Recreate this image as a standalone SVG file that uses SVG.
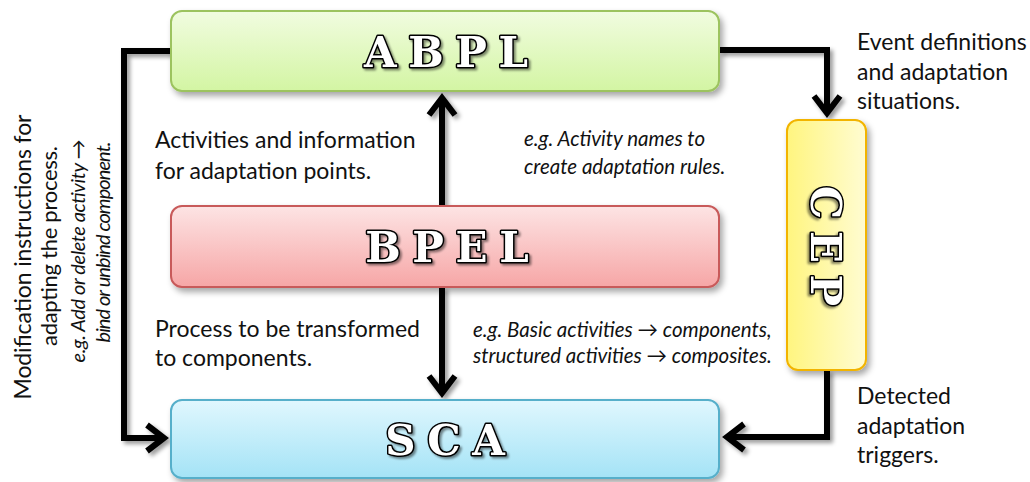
<svg xmlns="http://www.w3.org/2000/svg" width="1030" height="482" viewBox="0 0 1030 482">
<defs>
  <linearGradient id="gGreen" x1="0" y1="0" x2="0" y2="1">
    <stop offset="0" stop-color="#f1fce0"/>
    <stop offset="1" stop-color="#d3f5a3"/>
  </linearGradient>
  <linearGradient id="gRed" x1="0" y1="0" x2="0" y2="1">
    <stop offset="0" stop-color="#fde4e4"/>
    <stop offset="1" stop-color="#f6a6a6"/>
  </linearGradient>
  <linearGradient id="gBlue" x1="0" y1="0" x2="0" y2="1">
    <stop offset="0" stop-color="#e0f7fe"/>
    <stop offset="1" stop-color="#a4e3f6"/>
  </linearGradient>
  <linearGradient id="gYellow" x1="0" y1="0" x2="1" y2="0">
    <stop offset="0" stop-color="#fff57f"/>
    <stop offset="1" stop-color="#fffcd2"/>
  </linearGradient>
  <filter id="boxShadow" x="-10%" y="-20%" width="125%" height="150%">
    <feDropShadow dx="3" dy="4" stdDeviation="3" flood-color="#000" flood-opacity="0.35"/>
  </filter>
  <filter id="lineShadow" x="-10%" y="-10%" width="125%" height="125%">
    <feDropShadow dx="3" dy="3" stdDeviation="2" flood-color="#000" flood-opacity="0.4"/>
  </filter>
  <filter id="titleShadow" x="-10%" y="-20%" width="130%" height="150%">
    <feDropShadow dx="2" dy="2" stdDeviation="1.2" flood-color="#000" flood-opacity="0.45"/>
  </filter>
  <marker id="arr" markerUnits="userSpaceOnUse" viewBox="-30 -20 40 40" refX="0" refY="0" markerWidth="40" markerHeight="40" orient="auto" overflow="visible">
    <path d="M-17,-13 L0,0 L-17,13" fill="none" stroke="#000" stroke-width="6" stroke-linejoin="miter" stroke-miterlimit="10"/>
  </marker>
</defs>
<style>
  .box { stroke-width: 2; filter: url(#boxShadow); }
  .title { font-family: "DejaVu Serif", "Liberation Serif", serif; font-weight: bold; font-size: 42px; word-spacing: -3px; fill: #ffffff; stroke: #000000; stroke-width: 3px; paint-order: stroke; stroke-linejoin: round; text-anchor: middle; filter: url(#titleShadow); }
  .lbl { font-family: Lato, "Liberation Sans", sans-serif; font-size: 23px; fill: #111111; }
  .it { font-family: Lato, "Liberation Sans", sans-serif; font-style: italic; font-size: 20.5px; fill: #111111; }
  .rot-it { font-size: 20px; }
  .conn { fill: none; stroke: #000000; stroke-width: 6; marker-end: url(#arr); }
</style>
<rect width="1030" height="482" fill="#ffffff"/>

<g id="connectors" filter="url(#lineShadow)">
  <path class="conn" d="M171,51 H124 V438 H164"/>
  <path class="conn" d="M719,50 H827 V113"/>
  <path class="conn" d="M827,370 V437 H727"/>
  <path class="conn" d="M442,206 V98"/>
  <path class="conn" d="M442,287 V393"/>
</g>

<g id="node-abpl">
  <rect class="box" x="171" y="11" width="548" height="80" rx="11" fill="url(#gGreen)" stroke="#9cc35e"/>
  <text class="title" x="446" y="67">A B P L</text>
</g>
<g id="node-bpel">
  <rect class="box" x="171" y="206" width="548" height="81" rx="11" fill="url(#gRed)" stroke="#c85a5a"/>
  <text class="title" x="447" y="262">B P E L</text>
</g>
<g id="node-sca">
  <rect class="box" x="171" y="400" width="548" height="78" rx="11" fill="url(#gBlue)" stroke="#56afca"/>
  <text class="title" x="445" y="455">S C A</text>
</g>
<g id="node-cep">
  <rect class="box" x="787" y="120" width="79" height="250" rx="11" fill="url(#gYellow)" stroke="#f2b400"/>
  <text class="title" transform="translate(811,246) rotate(90)" x="0" y="0">C E P</text>
</g>

<g id="labels">
  <text class="lbl" x="155" y="148">Activities and information</text>
  <text class="lbl" x="155" y="179">for adaptation points.</text>
  <text class="it" x="524" y="146">e.g. Activity names to</text>
  <text class="it" x="524" y="174">create adaptation rules.</text>
  <text class="lbl" x="155" y="337">Process to be transformed</text>
  <text class="lbl" x="155" y="366">to components.</text>
  <text class="it" x="473" y="337">e.g. Basic activities → components,</text>
  <text class="it" x="473" y="363">structured activities → composites.</text>
  <text class="lbl" x="857" y="50">Event definitions</text>
  <text class="lbl" x="857" y="80">and adaptation</text>
  <text class="lbl" x="857" y="109">situations.</text>
  <text class="lbl" x="857" y="404">Detected</text>
  <text class="lbl" x="857" y="434">adaptation</text>
  <text class="lbl" x="857" y="463">triggers.</text>
  <text class="lbl" text-anchor="middle" textLength="285" transform="translate(31,257) rotate(-90)">Modification instructions for</text>
  <text class="lbl" text-anchor="middle" textLength="200" transform="translate(57,246) rotate(-90)" style="font-size:22px">adapting the process.</text>
  <text class="it rot-it" text-anchor="middle" textLength="223" transform="translate(85,251) rotate(-90)">e.g. Add or delete activity →</text>
  <text class="it rot-it" text-anchor="middle" textLength="201" transform="translate(110,242) rotate(-90)">bind or unbind component.</text>
</g>
</svg>
